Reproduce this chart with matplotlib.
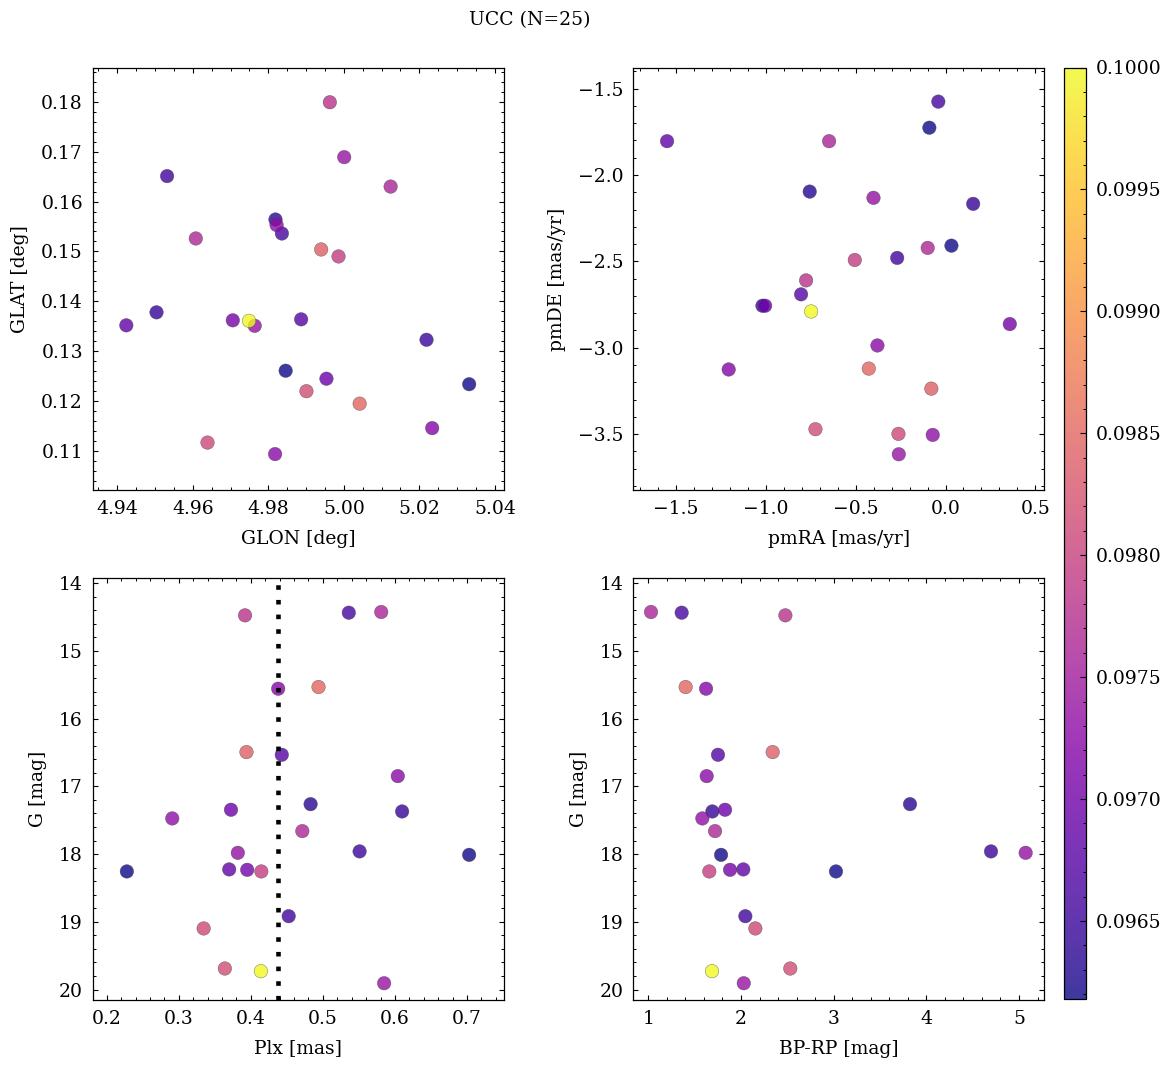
import numpy as np
import matplotlib
matplotlib.use("Agg")
import matplotlib.pyplot as plt
from matplotlib.ticker import MultipleLocator, AutoMinorLocator, FormatStrFormatter

plt.rcParams.update({
    "font.family": "serif",
    "font.serif": ["DejaVu Serif"],
    "font.size": 13.5,
    "axes.linewidth": 0.9,
    "axes.labelpad": 8.5,
    "xtick.direction": "in",
    "ytick.direction": "in",
    "xtick.top": True,
    "ytick.right": True,
    "xtick.minor.visible": True,
    "ytick.minor.visible": True,
    "xtick.major.size": 3.8,
    "ytick.major.size": 3.8,
    "xtick.minor.size": 2.0,
    "ytick.minor.size": 2.0,
    "xtick.major.width": 0.8,
    "ytick.major.width": 0.8,
    "xtick.minor.width": 0.7,
    "ytick.minor.width": 0.7,
    "xtick.major.pad": 7.0,
    "ytick.major.pad": 7.0,
})

# one entry per member star
glon = [4.9846, 5.0332, 4.9819, 4.9504, 5.0219, 4.9532, 4.9836, 4.9887, 4.9424, 4.9954,
        4.9706, 5.0234, 4.9818, 4.9822, 4.9764, 5.0001, 5.0124, 4.9608, 4.9963, 4.9986,
        4.9639, 4.9901, 4.9940, 5.0042, 4.9749]
glat = [0.1261, 0.1234, 0.1564, 0.1378, 0.1323, 0.1651, 0.1536, 0.1364, 0.1352, 0.1245,
        0.1362, 0.1146, 0.1094, 0.1553, 0.1351, 0.1689, 0.1630, 0.1526, 0.1799, 0.1490,
        0.1117, 0.1220, 0.1504, 0.1195, 0.1361]
pmra = [-0.090, 0.033, -0.756, 0.154, -1.019, -0.269, -0.040, -0.804, -1.550, -1.004,
        0.358, -1.207, -0.379, -0.071, -0.401, -0.260, -0.648, -0.099, -0.776, -0.505,
        -0.262, -0.724, -0.079, -0.427, -0.748]
pmde = [-1.726, -2.409, -2.096, -2.167, -2.757, -2.480, -1.575, -2.691, -1.804, -2.757,
        -2.863, -3.126, -2.987, -3.505, -2.132, -3.617, -1.804, -2.422, -2.610, -2.492,
        -3.499, -3.472, -3.237, -3.121, -2.790]
plx = [0.228, 0.703, 0.483, 0.610, 0.551, 0.4526, 0.536, 0.443, 0.370, 0.3725,
       0.395, 0.438, 0.604, 0.291, 0.382, 0.585, 0.581, 0.4715, 0.392, 0.4146,
       0.3346, 0.364, 0.394, 0.494, 0.414]
gmag = [18.256, 18.011, 17.262, 17.370, 17.960, 18.917, 14.434, 16.533, 18.226, 17.345,
        18.232, 15.557, 16.848, 17.473, 17.981, 19.907, 14.424, 17.660, 14.473, 18.256,
        19.098, 19.690, 16.493, 15.532, 19.729]
bprp = [3.025, 1.785, 3.824, 1.691, 4.698, 2.047, 1.360, 1.752, 2.025, 1.828,
        1.882, 1.623, 1.630, 1.583, 5.072, 2.030, 1.029, 1.720, 2.479, 1.658,
        2.155, 2.532, 2.342, 1.403, 1.687]
prob = [0.09618, 0.09620, 0.09635, 0.09645, 0.09650, 0.09655, 0.09660, 0.09672, 0.09685, 0.09695,
        0.09705, 0.09720, 0.09725, 0.09730, 0.09735, 0.09740, 0.09760, 0.09765, 0.09780, 0.09795,
        0.09810, 0.09815, 0.09840, 0.09850, 0.10000]

W, H = 1173, 1067
fig = plt.figure(figsize=(W / 100, H / 100), dpi=100)


def px_axes(x0, y0, x1, y1):
    return fig.add_axes([x0 / W, 1 - y1 / H, (x1 - x0) / W, (y1 - y0) / H])


ax1 = px_axes(92.7, 68.3, 504.3, 490)
ax2 = px_axes(633.3, 68.3, 1044.3, 490)
ax3 = px_axes(92.7, 578.3, 504.3, 1000)
ax4 = px_axes(633.3, 578.3, 1044.3, 1000)
cax = px_axes(1064, 67.5, 1085.7, 999)

kw = dict(c=prob, cmap="plasma", vmin=min(prob), vmax=max(prob), s=95,
          alpha=0.8, edgecolors="0.25", linewidths=0.3)

sc = ax1.scatter(glon, glat, **kw)
ax1.set_xlim(4.9335, 5.0425)
ax1.set_ylim(0.1022, 0.1867)
ax1.xaxis.set_major_locator(MultipleLocator(0.02))
ax1.yaxis.set_major_locator(MultipleLocator(0.01))
ax1.xaxis.set_major_formatter(FormatStrFormatter("%.2f"))
ax1.set_xlabel("GLON [deg]")
ax1.set_ylabel("GLAT [deg]")

ax2.scatter(pmra, pmde, **kw)
ax2.set_xlim(-1.738, 0.550)
ax2.set_ylim(-3.824, -1.382)
ax2.xaxis.set_major_locator(MultipleLocator(0.5))
ax2.yaxis.set_major_locator(MultipleLocator(0.5))
ax2.set_xlabel("pmRA [mas/yr]")
ax2.set_ylabel("pmDE [mas/yr]")

ax3.scatter(plx, gmag, **kw)
ax3.axvline(np.median(plx), color="k", lw=3.3, ls=(0, (1, 2.2)))
ax3.set_xlim(0.1806, 0.7518)
ax3.set_ylim(20.155, 13.926)
ax3.xaxis.set_major_locator(MultipleLocator(0.1))
ax3.yaxis.set_major_locator(MultipleLocator(1))
ax3.set_xlabel("Plx [mas]")
ax3.set_ylabel("G [mag]")

ax4.scatter(bprp, gmag, **kw)
ax4.set_xlim(0.838, 5.273)
ax4.set_ylim(20.155, 13.926)
ax4.xaxis.set_major_locator(MultipleLocator(1))
ax4.yaxis.set_major_locator(MultipleLocator(1))
ax4.set_xlabel("BP-RP [mag]")
ax4.set_ylabel("G [mag]")

for ax in (ax1, ax2, ax3, ax4):
    ax.xaxis.set_minor_locator(AutoMinorLocator())
    ax.yaxis.set_minor_locator(AutoMinorLocator())

cb = fig.colorbar(sc, cax=cax)
cb.outline.set_linewidth(0.9)
cb.ax.yaxis.set_major_locator(MultipleLocator(0.0005))
cb.ax.yaxis.set_minor_locator(MultipleLocator(0.0001))
cb.ax.yaxis.set_major_formatter(FormatStrFormatter("%.4f"))
cb.ax.tick_params(which="both", direction="in", left=False, right=True)
cb.ax.tick_params(which="major", length=4.3)
cb.ax.tick_params(which="minor", length=2.2)

fig.text(530 / W, 1 - 20 / H, "UCC (N=25)", ha="center", va="center", fontsize=13.5)

fig.savefig("out.png", dpi=100)
